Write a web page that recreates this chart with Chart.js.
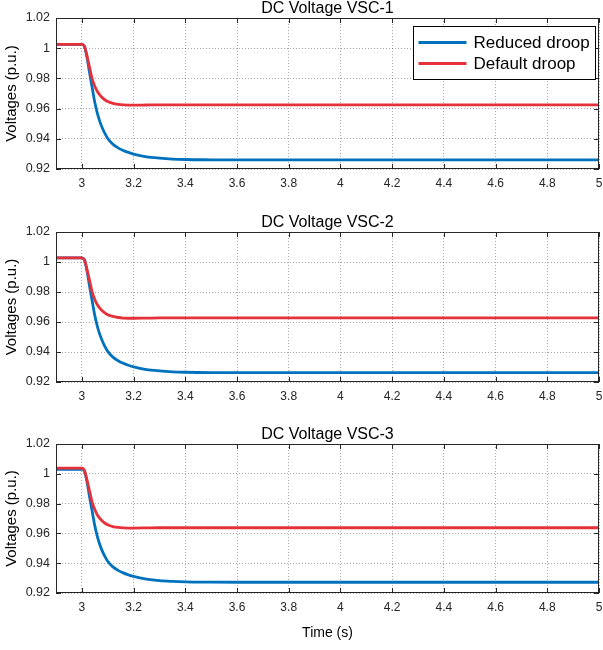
<!DOCTYPE html>
<html>
<head>
<meta charset="utf-8">
<script src="https://cdn.jsdelivr.net/npm/chart.js@4.4.0/dist/chart.umd.min.js"></script>
<style>
    body { margin: 0; background: #fff; }
    #wrap { position: relative; width: 603px; height: 650px; }
    canvas { position: absolute; left: 0; }
</style>
</head>
<body>
<div id="wrap">
    <canvas id="vsc1" width="603" height="195" style="top:0px"></canvas>
    <canvas id="vsc2" width="603" height="194" style="top:214px"></canvas>
    <canvas id="vsc3" width="603" height="224" style="top:426px"></canvas>
</div>
<script>
// waktu simulasi (s)
const time = [2.9, 3.0, 3.01, 3.02, 3.03, 3.04, 3.05, 3.06, 3.07, 3.08, 3.09, 3.1, 3.12, 3.14, 3.16, 3.18, 3.2, 3.25, 3.3, 3.35, 3.4, 3.5, 3.6, 4.0, 4.5, 5.0];

// tegangan DC (p.u.) tiap VSC
const vsc1Reduced = [1.0025, 1.0025, 1.0012, 0.9938, 0.9835, 0.9738, 0.9642, 0.9568, 0.9512, 0.9468, 0.9432, 0.9402, 0.9364, 0.934, 0.9323, 0.931, 0.9299, 0.9281, 0.9272, 0.9266, 0.9263, 0.9261, 0.926, 0.926, 0.926, 0.926];
const vsc1Default = [1.0025, 1.0025, 1.0013, 0.9947, 0.9872, 0.9797, 0.9748, 0.9713, 0.9689, 0.9671, 0.9657, 0.9647, 0.9635, 0.9628, 0.9624, 0.9623, 0.9623, 0.9624, 0.9625, 0.9625, 0.9625, 0.9625, 0.9625, 0.9625, 0.9625, 0.9625];

const vsc2Reduced = [1.0027, 1.0027, 1.0014, 0.994, 0.9837, 0.974, 0.9644, 0.957, 0.9514, 0.947, 0.9434, 0.9404, 0.9366, 0.9342, 0.9325, 0.9312, 0.9301, 0.9283, 0.9274, 0.9268, 0.9265, 0.9263, 0.9263, 0.9263, 0.9263, 0.9263];
const vsc2Default = [1.0027, 1.0027, 1.0015, 0.9949, 0.9874, 0.9799, 0.975, 0.9715, 0.9691, 0.9673, 0.9659, 0.9649, 0.9637, 0.963, 0.9626, 0.9625, 0.9625, 0.9626, 0.9627, 0.9627, 0.9627, 0.9627, 0.9627, 0.9627, 0.9627, 0.9627];

const vsc3Reduced = [1.003, 1.003, 1.0018, 0.9945, 0.9843, 0.9748, 0.9652, 0.9578, 0.9522, 0.9478, 0.9443, 0.9413, 0.9375, 0.9352, 0.9335, 0.9322, 0.9311, 0.9293, 0.9283, 0.9278, 0.9275, 0.9273, 0.9272, 0.9272, 0.9272, 0.9272];
const vsc3Default = [1.0038, 1.0038, 1.0022, 0.9957, 0.9883, 0.9808, 0.976, 0.9724, 0.97, 0.9682, 0.9668, 0.9658, 0.9646, 0.964, 0.9637, 0.9636, 0.9636, 0.9637, 0.9638, 0.9638, 0.9638, 0.9638, 0.9638, 0.9638, 0.9638, 0.9638];

// label sumbu
const xTicks = [3, 3.2, 3.4, 3.6, 3.8, 4, 4.2, 4.4, 4.6, 4.8, 5];
const xTickLabels = ['3', '3.2', '3.4', '3.6', '3.8', '4', '4.2', '4.4', '4.6', '4.8', '5'];
const yTicks = [0.92, 0.94, 0.96, 0.98, 1, 1.02];
const yTickLabels = ['0.92', '0.94', '0.96', '0.98', '1', '1.02'];

const BLUE = '#0072BD';
const RED = '#E5323A';
const AXIS = '#262626';

Chart.defaults.font.family = '"Liberation Sans", Arial, Helvetica, sans-serif';
Chart.defaults.color = AXIS;

// bingkai kotak + tick ke dalam (gaya MATLAB)
const axesFrame = {
    id: 'axesFrame',
    afterDatasetsDraw(chart) {
        const { ctx, chartArea: a, scales: { x, y } } = chart;
        const len = 5;
        ctx.save();
        ctx.strokeStyle = AXIS;
        ctx.lineWidth = 1;
        ctx.beginPath();
        x.ticks.forEach(t => {
            const px = Math.round(x.getPixelForValue(t.value)) + 0.5;
            ctx.moveTo(px, a.top); ctx.lineTo(px, a.top + len);
            ctx.moveTo(px, a.bottom); ctx.lineTo(px, a.bottom - len);
        });
        y.ticks.forEach(t => {
            const py = Math.round(y.getPixelForValue(t.value)) + 0.5;
            ctx.moveTo(a.left, py); ctx.lineTo(a.left + len, py);
            ctx.moveTo(a.right, py); ctx.lineTo(a.right - len, py);
        });
        ctx.stroke();
        ctx.strokeRect(Math.round(a.left) + 0.5, Math.round(a.top) + 0.5,
            Math.round(a.right - a.left) - 1, Math.round(a.bottom - a.top) - 1);
        ctx.restore();
    }
};

// legenda dengan kotak di pojok kanan atas
const boxLegend = {
    id: 'boxLegend',
    afterDraw(chart) {
        const { ctx, chartArea: a } = chart;
        const sets = chart.data.datasets;
        ctx.save();
        ctx.font = '17px "Liberation Sans", Arial, sans-serif';
        const textW = Math.max(...sets.map(d => ctx.measureText(d.label).width));
        const rowH = 21;
        const w = Math.round(5 + 48 + 6 + textW + 7);
        const h = 16 + rowH * (sets.length - 1) + 16;
        const x0 = Math.round(a.right - 4 - w) + 0.5;
        const y0 = Math.round(a.top + 8) + 0.5;
        ctx.fillStyle = '#fff';
        ctx.fillRect(x0, y0, w, h);
        ctx.strokeStyle = '#000';
        ctx.lineWidth = 1;
        ctx.strokeRect(x0, y0, w, h);
        sets.forEach((d, i) => {
            const cy = y0 + 16 + i * rowH;
            ctx.strokeStyle = d.borderColor;
            ctx.lineWidth = 2.8;
            ctx.beginPath();
            ctx.moveTo(x0 + 5, cy);
            ctx.lineTo(x0 + 53, cy);
            ctx.stroke();
            ctx.fillStyle = '#000';
            ctx.textBaseline = 'middle';
            ctx.fillText(d.label, x0 + 60, cy + 1);
        });
        ctx.restore();
    }
};

function toPoints(arr) {
    return time.map((t, i) => ({ x: t, y: arr[i] }));
}

function makePanel(id, title, reduced, deflt, opts) {
    const extra = [axesFrame];
    if (opts.legend) extra.push(boxLegend);
    return new Chart(document.getElementById(id), {
        type: 'line',
        data: {
            datasets: [{
                label: 'Reduced droop',
                data: toPoints(reduced),
                borderColor: BLUE,
                borderWidth: 2.8,
                pointRadius: 0,
                cubicInterpolationMode: 'monotone',
                order: 1
            }, {
                label: 'Default droop',
                data: toPoints(deflt),
                borderColor: RED,
                borderWidth: 2.8,
                pointRadius: 0,
                cubicInterpolationMode: 'monotone',
                order: 0
            }]
        },
        options: {
            responsive: false,
            animation: false,
            devicePixelRatio: 1,
            layout: { padding: { left: 0, right: 4, top: 0, bottom: 0 } },
            scales: {
                x: {
                    type: 'linear',
                    min: 2.9,
                    max: 5,
                    afterBuildTicks: s => { s.ticks = xTicks.map(v => ({ value: v })); },
                    afterFit: s => {
                        s.height = opts.xHeight;
                        s.paddingLeft = 0;
                        s.paddingRight = 0;
                    },
                    ticks: {
                        autoSkip: false,
                        maxRotation: 0,
                        padding: 7,
                        font: { size: 12 },
                        callback: (v, i) => xTickLabels[i]
                    },
                    grid: { color: 'rgba(40,40,40,0.4)', drawTicks: false },
                    border: { display: false, dash: [1, 2] },
                    title: {
                        display: !!opts.xTitle,
                        text: 'Time (s)',
                        color: '#000',
                        font: { size: 14 },
                        padding: { top: 4, bottom: 8 }
                    }
                },
                y: {
                    min: 0.92,
                    max: 1.02,
                    afterBuildTicks: s => { s.ticks = yTicks.map(v => ({ value: v })); },
                    afterFit: s => {
                        s.width = 56;
                        s.paddingTop = 0;
                        s.paddingBottom = 0;
                    },
                    ticks: {
                        padding: 6,
                        font: { size: 12.5 },
                        callback: (v, i) => yTickLabels[i]
                    },
                    grid: { color: 'rgba(40,40,40,0.4)', drawTicks: false },
                    border: { display: false, dash: [1, 2] },
                    title: {
                        display: true,
                        text: 'Voltages (p.u.)',
                        color: '#000',
                        font: { size: 15 },
                        padding: { top: 3, bottom: 0 }
                    }
                }
            },
            plugins: {
                legend: { display: false },
                tooltip: { enabled: false },
                title: {
                    display: true,
                    fullSize: false,
                    text: title,
                    color: '#000',
                    font: { size: 16, weight: 'normal', lineHeight: 1.1 },
                    padding: { top: 0, bottom: 0.4 }
                }
            }
        },
        plugins: extra
    });
}

makePanel('vsc1', 'DC Voltage VSC-1', vsc1Reduced, vsc1Default, { legend: true, xHeight: 26 });
makePanel('vsc2', 'DC Voltage VSC-2', vsc2Reduced, vsc2Default, { xHeight: 26 });
makePanel('vsc3', 'DC Voltage VSC-3', vsc3Reduced, vsc3Default, { xTitle: true, xHeight: 57 });
</script>
</body>
</html>
